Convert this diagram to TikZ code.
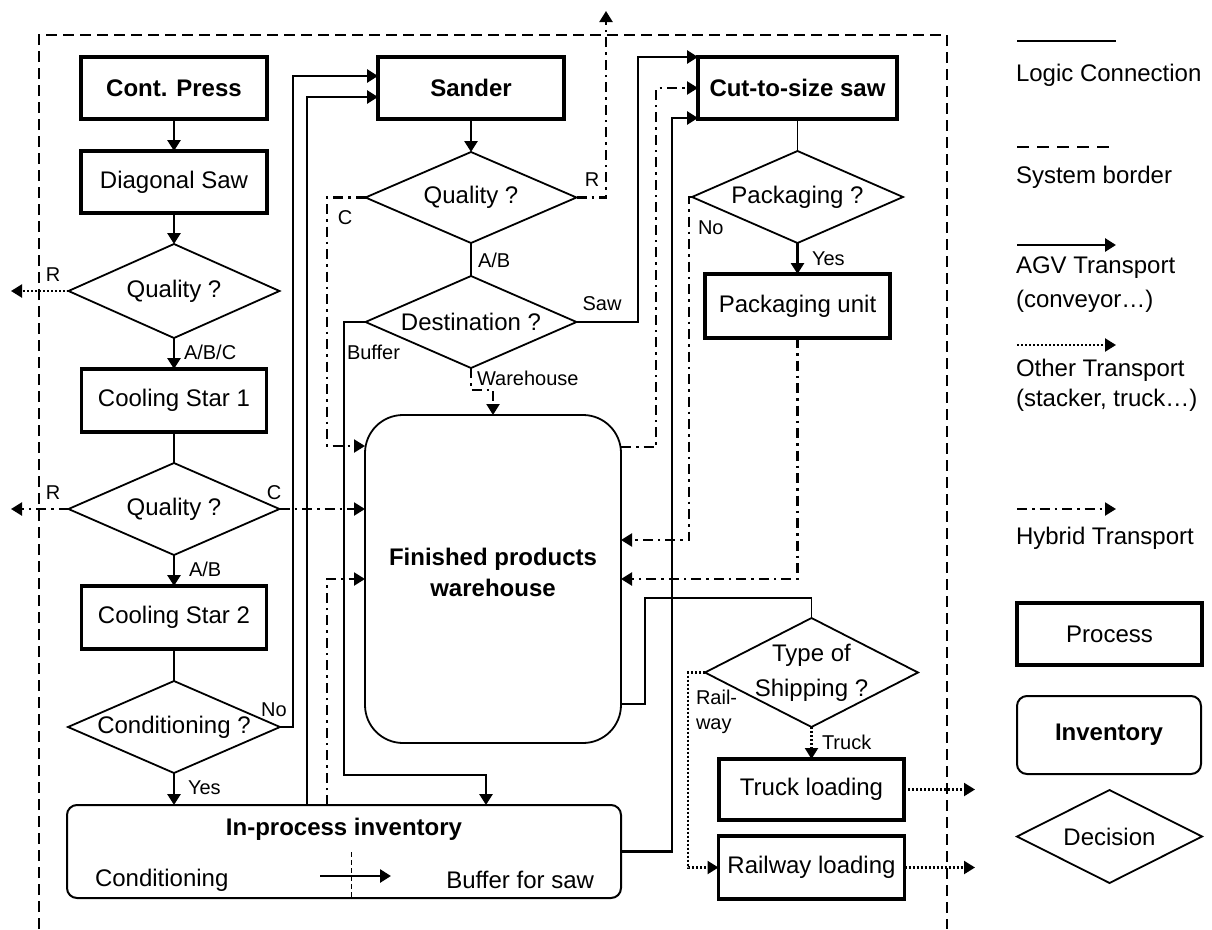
\documentclass[tikz,border=0pt]{standalone}
\usepackage{fontspec}
\setmainfont{Liberation Sans}
\usetikzlibrary{arrows.meta,shapes.geometric}
\begin{document}
\begin{tikzpicture}[x=1pt,y=-1pt,
  every node/.style={font=\fontsize{24}{30}\selectfont, inner sep=0pt, outer sep=0pt},
  proc/.style={draw, line width=3.4pt, minimum width=186pt, minimum height=62pt},
  decision/.style={draw, diamond, line width=1.8pt, aspect=2.25, minimum width=211pt, minimum height=92pt},
  inv/.style={draw, line width=2pt, rounded corners=10pt},
  tip/.style={-{Triangle[length=11pt,width=13pt]}},
  agv/.style={line width=2.8pt, tip},
  hyb/.style={line width=2.2pt, dash pattern=on 10pt off 5pt on 2.5pt off 5pt, tip},
  oth/.style={line width=2.2pt, dash pattern=on 2pt off 2pt, tip},
  logic/.style={line width=1.2pt},
  border/.style={line width=1.6pt, dash pattern=on 11pt off 6pt},
  lab/.style={font=\fontsize{20}{25}\selectfont},
  bold/.style={font=\fontsize{24}{31}\selectfont\bfseries}
]
\useasboundingbox (0,0) rectangle (1212,929);

% system border
\draw[border] (39,929) -- (39,35) -- (947,35) -- (947,929);

% left column
\node[proc, bold] (press) at (174,88) {Cont. Press};
\node[proc] (diag) at (174,182) {Diagonal Saw};
\node[decision, minimum height=94pt] (q1) at (174,291) {Quality ?};
\node[proc, minimum width=185pt, minimum height=63pt] (cs1) at (174,400.5) {Cooling Star 1};
\node[decision] (q2) at (174,509) {Quality ?};
\node[proc, minimum width=185pt, minimum height=63pt] (cs2) at (174,617.5) {Cooling Star 2};
\node[decision, minimum width=212pt] (cond) at (174,727) {Conditioning ?};

% in-process inventory
\node[inv, minimum width=554pt, minimum height=93pt] (inproc) at (344,851.5) {};
\node[bold] (iptitle) at (344,829) {In-process inventory};
\node[anchor=west] (ipcond) at (95,880) {Conditioning};
\node[anchor=east] (ipbuf) at (594,880) {Buffer for saw};
\coordinate (ipa) at (320,876);
\coordinate (ipb) at (391,876);
\draw[agv] (ipa) -- (ipb);
\draw[line width=1pt, dash pattern=on 5pt off 3pt] (351,852) -- (inproc.south -| 351,0);

% middle column
\node[proc, bold] (sander) at (471,88) {Sander};
\node[decision, minimum height=91pt] (q3) at (471,197.5) {Quality ?};
\node[decision] (dest) at (471,322) {Destination ?};
\node[draw, line width=1.8pt, rounded corners=38pt, minimum width=256pt, minimum height=328pt] (wh) at (493,579) {};
\node[bold, align=center] (whtext) at (493,572) {Finished products\\warehouse};

% right column
\node[proc, bold, minimum width=199pt] (cut) at (797.5,88) {Cut-to-size saw};
\node[decision] (pack) at (797.5,197) {Packaging ?};
\node[proc, minimum width=185pt, minimum height=64pt] (packunit) at (797.5,306) {Packaging unit};
\node[decision, minimum width=213pt, minimum height=109pt,
      label={[align=center, font=\fontsize{24}{35}\selectfont]center:Type of\\Shipping ?}] (ship) at (811.5,672.5) {};
\node[proc, minimum width=185pt, minimum height=61pt] (truck) at (811.5,789.5) {Truck loading};
\node[proc, minimum width=186pt, minimum height=63pt] (rail) at (811.5,867.5) {Railway loading};

% free ends
\coordinate (outq1) at (11,291);
\coordinate (outq2) at (11,509);
\coordinate (outq3) at (606,11);
\coordinate (outtruck) at (975,789.5);
\coordinate (outrail) at (975,867.5);

% left column connectors
\draw[agv] (press) -- (diag);
\draw[agv] (diag) -- (q1);
\draw[agv] (q1) -- (cs1);
\node[lab, anchor=west] (lq1) at (184,352) {A/B/C};
\draw[logic] (cs1) -- (q2);
\draw[agv] (q2) -- (cs2);
\node[lab, anchor=west] (lq2) at (189,569) {A/B};
\draw[logic] (cs2) -- (cond);
\draw[agv] (cond.south) -- (cond.south |- inproc.north);
\node[lab, anchor=west] (lyes) at (188,788) {Yes};

\draw[oth] (q1.west) -- (outq1);
\node[lab] (lr1) at (53,275) {R};
\draw[hyb] (q2.west) -- (outq2);
\node[lab] (lr2) at (53,493) {R};
\draw[hyb] (q2.east) -- (wh.west |- q2.east);
\node[lab] (lc2) at (274,493) {C};

\draw[agv] (cond.east) -- (293,727) |- (sander.west |- 0,76);
\node[lab] (lno) at (274,710) {No};
\draw[agv] (inproc.north -| 307,0) |- (sander.west |- 0,97);
\draw[hyb] (inproc.north -| 327,0) |- (wh.west |- 0,579);

% middle connectors
\draw[agv] (sander) -- (q3);
\draw[hyb] (q3.east) -| (outq3);
\node[lab] (lr3) at (592,180) {R};
\draw[hyb] (q3.west) -| (327,446) -- (wh.west |- 0,446);
\node[lab] (lc3) at (345,218) {C};
\draw[logic] (q3) -- (dest);
\node[lab, anchor=west] (lab3) at (478,260) {A/B};
\draw[agv] (dest.east) -| (638,57) -- (cut.west |- 0,57);
\node[lab] (lsaw) at (602,304) {Saw};
\draw[agv] (dest.west) -| (344,775) -| (inproc.north -| 486,0);
\node[lab, anchor=west] (lbuf) at (347,352) {Buffer};
\draw[hyb] (dest.south) -- (471,390) -| (wh.north);
\node[lab, anchor=west] (lwh) at (477,378) {Warehouse};

\draw[agv] (inproc.east) -| (672,118) -- (cut.west |- 0,118);
\draw[hyb] (wh.east |- 0,447) -| (656,88) -- (cut.west);

% right connectors
\draw[logic] (cut) -- (pack);
\draw[agv] (pack) -- (packunit);
\node[lab, anchor=west] (lpyes) at (812,259) {Yes};
\draw[hyb] (pack.west) -- (689,197) |- (wh.east |- 0,540);
\node[lab, anchor=west] (lpno) at (698,228) {No};
\draw[hyb] (packunit.south) |- (wh.east |- 0,579);
\draw[logic] (wh.east |- 0,704) -| (645,598) -| (ship.north);
\draw[oth] (ship.west) -| (688,867.5) -- (rail.west);
\node[lab, anchor=west, align=left, font=\fontsize{20}{25}\selectfont] (lrail) at (696,712) {Rail-\\way};
\draw[oth] (ship.south) -- (truck.north);
\node[lab, anchor=west] (ltruck) at (822,742) {Truck};
\draw[oth] (truck.east) -- (outtruck);
\draw[oth] (rail.east) -- (outrail);

% legend
\draw[logic] (1017,41) -- (1116,41);
\node[anchor=west] (leg1) at (1016,75) {Logic Connection};
\draw[line width=1.2pt, dash pattern=on 12pt off 8pt] (1017,147) -- (1113,147);
\node[anchor=west] (leg2) at (1016,177) {System border};
\draw[agv] (1017,245) -- (1116,245);
\node[anchor=west, align=left, font=\fontsize{24}{34}\selectfont] (leg3) at (1016,285) {AGV Transport\\(conveyor…)};
\draw[oth] (1017,345) -- (1116,345);
\node[anchor=west, align=left, font=\fontsize{24}{30}\selectfont] (leg4) at (1016,385) {Other Transport\\(stacker, truck…)};
\draw[hyb] (1017,509) -- (1116,509);
\node[anchor=west] (leg5) at (1016,538) {Hybrid Transport};
\node[proc, minimum width=185pt] (legproc) at (1109.5,634) {Process};
\node[inv, bold, minimum width=184pt, minimum height=78pt] (leginv) at (1109,735) {Inventory};
\node[decision, minimum width=185pt, minimum height=93pt, aspect=2] (legdec) at (1109.5,836.5) {Decision};
\end{tikzpicture}
\end{document}
